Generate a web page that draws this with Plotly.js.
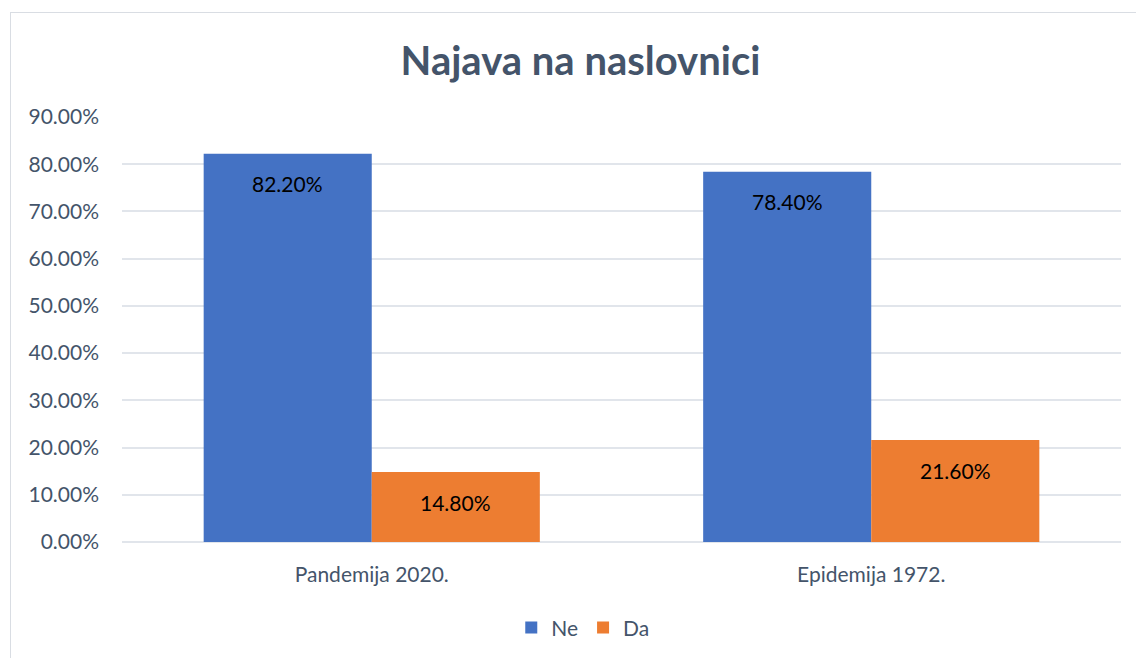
<!DOCTYPE html>
<html>
<head>
<meta charset="utf-8">
<script src="https://cdn.plot.ly/plotly-3.0.1.min.js"></script>
<style>
  html, body { margin: 0; padding: 0; background: #fff; }
  #wrap { position: relative; width: 1136px; height: 658px; overflow: hidden; }
  #frame { position: absolute; left: 10px; top: 12px; width: 1140px; height: 660px; border: 1px solid #D9DDE3; box-sizing: border-box; pointer-events: none; }
  #chart { position: absolute; left: 0; top: 0; width: 1136px; height: 658px; }
</style>
</head>
<body>
<div id="wrap">
  <div id="frame"></div>
  <div id="chart"></div>
</div>
<script>
const categories = ["Pandemija 2020.", "Epidemija 1972."];
const seriesNames = ["Ne", "Da"];
const neValues = [82.2, 78.4];
const daValues = [14.8, 21.6];
const colors = ["#4472C4", "#ED7D31"];
const titleText = "Najava na naslovnici";

const FONT = "Lato, 'Open Sans', sans-serif";
const seriesValues = [neValues, daValues];

const traces = seriesValues.map((vals, i) => ({
  type: "bar",
  name: seriesNames[i],
  x: categories,
  y: vals,
  marker: { color: colors[i] },
  hoverinfo: "skip"
}));

const annotations = [];
seriesValues.forEach((vals, i) => {
  vals.forEach((v, j) => {
    annotations.push({
      x: categories[j], y: v, xref: "x", yref: "y",
      text: v.toFixed(2) + "%",
      showarrow: false,
      xshift: i === 0 ? -84 : 84,
      yshift: -30,
      font: { family: FONT, size: 21, color: "#000000" }
    });
  });
});

const layout = {
  width: 1136, height: 658,
  margin: { l: 122, r: 15, t: 117, b: 116 },
  paper_bgcolor: "rgba(0,0,0,0)",
  plot_bgcolor: "rgba(0,0,0,0)",
  barmode: "group",
  bargap: 0.327,
  bargroupgap: 0,
  title: {
    text: "<b>" + titleText + "</b>",
    font: { family: FONT, size: 40, color: "#44546A" },
    x: 0.511, xref: "container", xanchor: "center",
    y: 0.908, yref: "container", yanchor: "middle"
  },
  xaxis: {
    type: "category",
    showgrid: false, zeroline: false, showline: false,
    ticks: "", ticklabelstandoff: 18,
    tickfont: { family: FONT, size: 21, color: "#44546A" }
  },
  yaxis: {
    range: [0, 90], dtick: 10, tick0: 0,
    tickformat: ".2f", ticksuffix: "%",
    showgrid: true, gridcolor: "#E1E5EB", gridwidth: 2,
    zeroline: true, zerolinecolor: "#E1E5EB", zerolinewidth: 2,
    showline: false, ticks: "", ticklabelstandoff: 22,
    tickfont: { family: FONT, size: 21, color: "#44546A" }
  },
  legend: {
    orientation: "h", x: 0.513, xref: "container", xanchor: "center",
    y: 0.046, yref: "container", yanchor: "middle",
    font: { family: FONT, size: 21, color: "#44546A" },
    itemwidth: 30, tracegroupgap: 0
  },
  annotations: annotations,
  showlegend: true
};

Plotly.newPlot("chart", traces, layout, { displayModeBar: false, staticPlot: true });
</script>
</body>
</html>
